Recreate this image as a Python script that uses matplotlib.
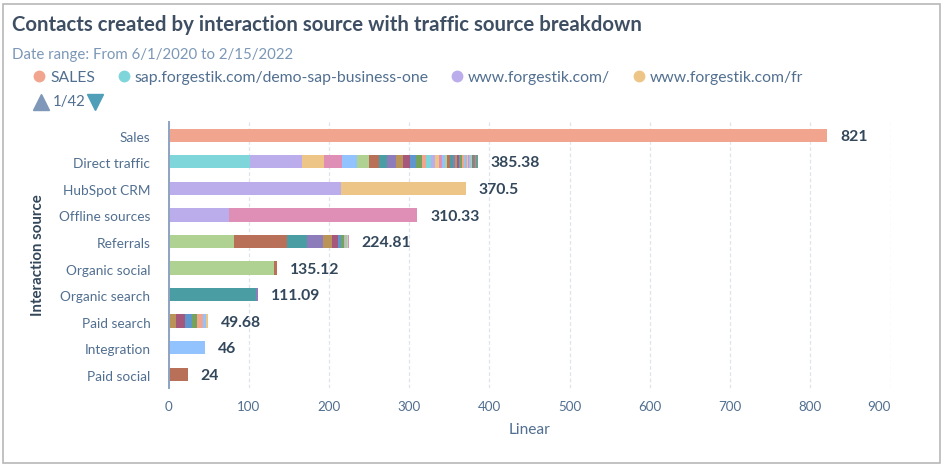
#!/usr/bin/env python3
import matplotlib
matplotlib.use("Agg")
import matplotlib.pyplot as plt
from matplotlib.lines import Line2D
from matplotlib.patches import Rectangle
from matplotlib.transforms import ScaledTranslation

W, H = 944, 467
plt.rcParams["font.family"] = ["Lato", "DejaVu Sans"]

# -------- Data --------
sources = ["Sales", "Direct traffic", "HubSpot CRM", "Offline sources", "Referrals",
           "Organic social", "Organic search", "Paid search", "Integration", "Paid social"]
totals = [821, 385.38, 370.5, 310.33, 224.81, 135.12, 111.09, 49.68, 46, 24]
total_labels = ["821", "385.38", "370.5", "310.33", "224.81", "135.12", "111.09", "49.68", "46", "24"]

# segment widths per row
sales_seg = [821]
direct_seg = [102, 64.5, 27.5, 22, 19, 14.5, 12.5, 10.8, 10.8, 9, 8.5, 8, 7,
              5, 6, 5, 4.8, 4.2, 4, 2.4, 4, 3, 2.6, 2.4, 2.2, 2.2, 2,
              2, 1.9, 1.9, 1.8, 1.7, 1.6, 1.5, 1.4, 1.2, 1.1, 1, 0.9, 0.8, 0.68]
crm_seg = [214.5, 156]
offline_seg = [75.5, 234.83]
referrals_seg = [81.6, 66.4, 25, 20, 11, 7, 4, 3.5, 1.9, 1.5, 1.2, 0.9, 0.81]
social_seg = [132, 3.12]
search_seg = [108.5, 2.59]
paid_seg = [9.6, 11.2, 7.9, 7.1, 7.1, 4, 2.78]
integration_seg = [46]
paid_social_seg = [24]

# colours of each row, as indexes into the palette
sales_col = [0]
direct_col = [1, 2, 3, 4, 5, 6, 7, 8, 9, 10, 11, 12, 13,
              0, 1, 2, 3, 4, 5, 6, 7, 8, 9, 10, 11, 12, 13,
              0, 1, 2, 3, 4, 5, 6, 7, 8, 9, 10, 11, 12, 13]
crm_col = [2, 3]
offline_col = [2, 4]
referrals_col = [6, 7, 8, 9, 10, 11, 12, 13, 0, 1, 2, 3, 4]
social_col = [6, 7]
search_col = [8, 9]
paid_col = [10, 11, 12, 13, 0, 5, 3]
integration_col = [5]
paid_social_col = [7]

palette = ["#f2a58e", "#7fd6da", "#bbadeb", "#edc687", "#df8fb5", "#93c3ff", "#afd293",
           "#b87059", "#4a9ea3", "#8c7cba", "#b99358", "#a5577c", "#5f96ce", "#76a35c"]

rows = [(sales_seg, sales_col), (direct_seg, direct_col), (crm_seg, crm_col),
        (offline_seg, offline_col), (referrals_seg, referrals_col), (social_seg, social_col),
        (search_seg, search_col), (paid_seg, paid_col), (integration_seg, integration_col),
        (paid_social_seg, paid_social_col)]

legend_names = ["SALES", "sap.forgestik.com/demo-sap-business-one", "www.forgestik.com/", "www.forgestik.com/fr"]
legend_cols = [0, 1, 2, 3]
x_ticks = [0, 100, 200, 300, 400, 500, 600, 700, 800, 900]

# -------- Figure --------
fig = plt.figure(figsize=(W / 100, H / 100), dpi=100)
fig.add_artist(Rectangle((2.5 / W, 1 - 463 / H), 937.5 / W, 459 / H, transform=fig.transFigure,
                         facecolor="white", edgecolor="#b8b8b8", linewidth=1.2, zorder=-1))

# axes box in pixels: x 168.5-890.5, y 122-387.5
ax = fig.add_axes([168.5 / W, 1 - 387.5 / H, 722 / W, 265.5 / H])
ax.patch.set_alpha(0)
ax.set_xlim(0, 900)
ax.set_ylim(len(sources) - 0.5, -0.5)

for i, (segs, cols) in enumerate(rows):
    left = 0
    for w, c in zip(segs, cols):
        ax.barh(i, w, left=left, height=0.5, color=palette[c], edgecolor="none", zorder=3)
        left += w
    ax.text(totals[i] + 16, i + 0.06, total_labels[i], va="center", ha="left", fontsize=11.3,
            fontweight="bold", color="#33475b", zorder=4)

ax.set_yticks(range(len(sources)))
ax.set_yticklabels(sources, fontsize=9.8, color="#516f90")
ax.set_xticks(x_ticks)
ax.set_xticklabels([str(t) for t in x_ticks], fontsize=9.6, color="#516f90")
ax.tick_params(axis="y", length=0, pad=13)
ax.tick_params(axis="x", length=0, pad=10)
ax.get_xticklabels()[-1].set_ha("right")

# category labels sit a little lower than the bar centres
down = ScaledTranslation(0, -1.5 / 100, fig.dpi_scale_trans)
for lab in ax.get_yticklabels():
    lab.set_transform(lab.get_transform() + down)

ax.grid(axis="x", color="#dfe3eb", linestyle=(0, (3, 2)), linewidth=0.9, zorder=0)
ax.set_axisbelow(True)
for side in ["top", "right", "bottom"]:
    ax.spines[side].set_visible(False)
ax.spines["left"].set_color("#8ea3c2")
ax.spines["left"].set_linewidth(1.4)
ax.spines["left"].set_zorder(5)

fig.text(530 / W, 1 - 429.5 / H, "Linear", ha="center", va="center", fontsize=11.2, color="#516f90")
fig.text(38 / W, 1 - 255 / H, "Interaction source", rotation=90, ha="center", va="center",
         fontsize=10.8, fontweight="bold", color="#33475b")

# -------- Header --------
fig.text(12 / W, 1 - 25 / H, "Contacts created by interaction source with traffic source breakdown",
         ha="left", va="center", fontsize=14.7, fontweight="bold", color="#3f4f63")
fig.text(12 / W, 1 - 55 / H, "Date range: From 6/1/2020 to 2/15/2022", ha="left", va="center",
         fontsize=10.85, color="#7c98b6")

handles = [Line2D([], [], linestyle="none", marker="o", markersize=7.5, color=palette[c]) for c in legend_cols]
fig.legend(handles, legend_names, loc="center left", bbox_to_anchor=(33 / W, 1 - 78 / H), ncol=4,
           frameon=False, fontsize=11.35, labelcolor="#516f90", handlelength=0.8, handletextpad=0.3,
           columnspacing=1.4, borderpad=0, borderaxespad=0)

# pager under the legend
pager = fig.add_axes([0, 0, 1, 1], label="pager")
pager.set_xlim(0, W)
pager.set_ylim(H, 0)
pager.axis("off")
pager.plot([41], [102], marker="^", markersize=11, color="#7f97b8", linestyle="none")
pager.plot([95], [102], marker="v", markersize=11, color="#4f9fb8", linestyle="none")
pager.text(53, 102, "1/42", ha="left", va="center", fontsize=10.8, color="#516f90")

fig.savefig("out.png", dpi=100)
